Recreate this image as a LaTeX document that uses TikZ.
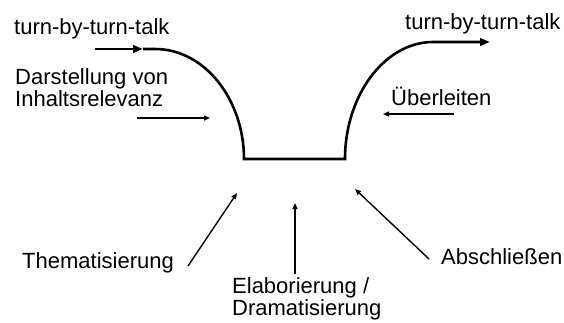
\documentclass[tikz,border=0pt]{standalone}
\usepackage{fontspec}
\setmainfont{Liberation Sans}
\usetikzlibrary{arrows.meta}
\begin{document}
\begin{tikzpicture}[x=1bp,y=-1bp,
  lbl/.style={inner sep=0pt,anchor=base west,align=left,
    font=\fontsize{22bp}{20bp}\selectfont},
  flow/.style={line width=2.6bp,line join=miter},
  bigtip/.style={-{Triangle[length=10bp,width=7.5bp]}},
  cue/.style={line width=1.4bp,-{Triangle[length=6bp,width=5bp]}}]
\useasboundingbox (0,0) rectangle (564,322);

% labels (multi-line labels are placed by the baseline of their last line)
\node[lbl] (tin)  at (14,34)  {turn-by-turn-talk};
\node[lbl] (tout) at (405,29) {turn-by-turn-talk};
\node[lbl] (dar)  at (15,106) {Darstellung von\\Inhaltsrelevanz};
\node[lbl] (ueb)  at (391,105) {Überleiten};
\node[lbl] (the)  at (22,268) {Thematisierung};
\node[lbl,font=\fontsize{22bp}{22bp}\selectfont] (ela) at (232,315) {Elaborierung /\\Dramatisierung};
\node[lbl] (abs)  at (441,264) {Abschließen};

% conversation flow: entry, dip, exit
\coordinate (fin)  at (95,49);
\coordinate (fmid) at (143,49);
\coordinate (fbl)  at (244,159);
\coordinate (fbr)  at (345,159);
\coordinate (fout) at (490,42);

\draw[flow,bigtip] (fin) -- (fmid);
\draw[flow,bigtip] (fmid) -- (155,49)
  .. controls (205,49) and (244,100) .. (fbl) -- (fbr)
  .. controls (345,95) and (385,42) .. (433,42) -- (fout);

% activity arrows
\coordinate (d1) at (137,118); \coordinate (d2) at (210,118);
\coordinate (u1) at (454,114); \coordinate (u2) at (383,114);
\coordinate (t1) at (188,266); \coordinate (t2) at (237,193);
\coordinate (e1) at (295,274); \coordinate (e2) at (295,203);
\coordinate (a1) at (429,259); \coordinate (a2) at (355,189);

\draw[cue] (d1) -- (d2);
\draw[cue] (u1) -- (u2);
\draw[cue] (t1) -- (t2);
\draw[cue] (e1) -- (e2);
\draw[cue] (a1) -- (a2);
\end{tikzpicture}
\end{document}
